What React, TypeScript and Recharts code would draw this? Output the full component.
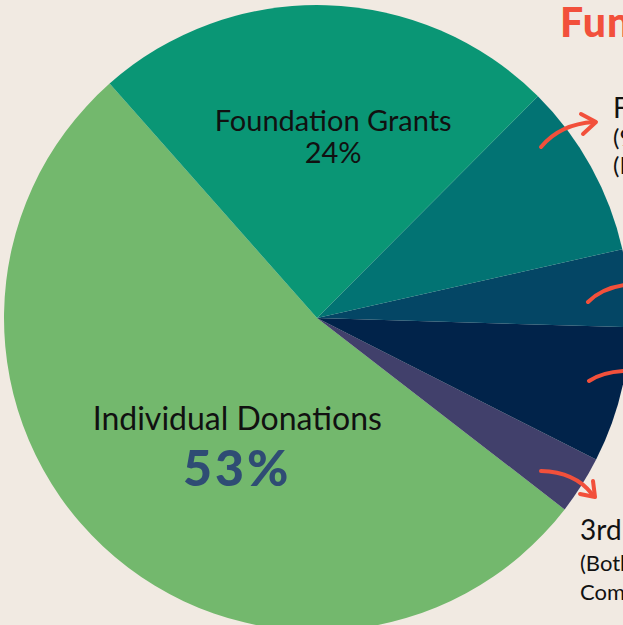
import React from 'react';
import { PieChart, Pie, Cell } from 'recharts';

// slices in drawing order (counter-clockwise from the upper-left boundary)
const sources = ['Individual Donations', '3rd Party Events', 'Government', 'Corporate', 'Fees for Service', 'Foundation Grants'];
const shares = [53, 3, 7, 4, 9, 24];
const sliceColors = ['#73B86D', '#41406B', '#01234A', '#044665', '#027373', '#0A9675'];

const pieData = sources.map((name, i) => ({ name, value: shares[i] }));

const FONT = 'Lato, "Open Sans", sans-serif';
const RED = '#F2503B';

const RADIAN = Math.PI / 180;

const renderLabel = (props: any) => {
  const { cx, cy, midAngle, name, value } = props;
  if (name === 'Foundation Grants') {
    const r = 185;
    const x = cx + r * Math.cos(-(midAngle - 3) * RADIAN);
    const y = cy + r * Math.sin(-(midAngle - 3) * RADIAN);
    return (
      <g>
        <text x={x + 1} y={y - 3} textAnchor="middle" fontFamily={FONT} fontSize={29} fill="#111">{name}</text>
        <text x={x + 1} y={y + 29} textAnchor="middle" fontFamily={FONT} fontSize={29} fill="#111">{value}%</text>
      </g>
    );
  }
  if (name === 'Individual Donations') {
    const r = 146;
    const x = cx + r * Math.cos(-(midAngle + 10) * RADIAN);
    const y = cy + r * Math.sin(-(midAngle + 10) * RADIAN);
    return (
      <g>
        <text x={x} y={y - 10} textAnchor="middle" fontFamily={FONT} fontSize={32} fill="#111">{name}</text>
        <text x={x} y={y + 46} textAnchor="middle" fontFamily={FONT} fontSize={50} fontWeight={900} letterSpacing={3} fill="#2F4C74">{value}%</text>
      </g>
    );
  }
  return null;
};

const Arrow = ({ d, head }: { d: string; head?: string }) => (
  <g fill="none" stroke={RED} strokeWidth={4} strokeLinecap="round" strokeLinejoin="round">
    <path d={d} />
    {head && <path d={head} />}
  </g>
);

export default function App() {
  return (
    <div style={{ position: 'absolute', left: 0, top: 0, width: 623, height: 625, background: '#F1EAE2', overflow: 'hidden' }}>
      <PieChart width={623} height={625} margin={{ top: 0, right: 0, bottom: 0, left: 0 }}>
        <Pie
          data={pieData}
          dataKey="value"
          nameKey="name"
          cx={317}
          cy={318}
          outerRadius={313}
          startAngle={131.5}
          endAngle={491.5}
          stroke="none"
          labelLine={false}
          label={renderLabel}
          isAnimationActive={false}
        >
          {pieData.map((d, i) => (
            <Cell key={d.name} fill={sliceColors[i]} />
          ))}
        </Pie>
      </PieChart>
      <svg width={623} height={625} style={{ position: 'absolute', left: 0, top: 0, pointerEvents: 'none' }}>
        <text x={560} y={37} fontFamily={FONT} fontSize={41} fontWeight={900} letterSpacing={1} fill={RED}>Funding Sources</text>

        <text x={613} y={118} fontFamily={FONT} fontSize={28} fill="#111">Fees for Service</text>
        <text x={613} y={146} fontFamily={FONT} fontSize={24} fill="#111">(9%)</text>
        <text x={613} y={174} fontFamily={FONT} fontSize={24} fill="#111">(Program income)</text>

        <text x={580} y={540} fontFamily={FONT} fontSize={28} fill="#111">3rd Party Events</text>
        <text x={580} y={571} fontFamily={FONT} fontSize={22} fill="#111">(Both Corporate and</text>
        <text x={580} y={600} fontFamily={FONT} fontSize={22} fill="#111">Community) 3%</text>

        <Arrow d="M541 147 Q560 124 594 122" head="M581 114 L596 122 L583 134" />
        <Arrow d="M588 302 Q602 288 625 285" />
        <Arrow d="M589 381 Q603 372 625 371" />
        <Arrow d="M541 471 Q575 472 592 494" head="M580 494 L595 497 L593 481" />
      </svg>
    </div>
  );
}
